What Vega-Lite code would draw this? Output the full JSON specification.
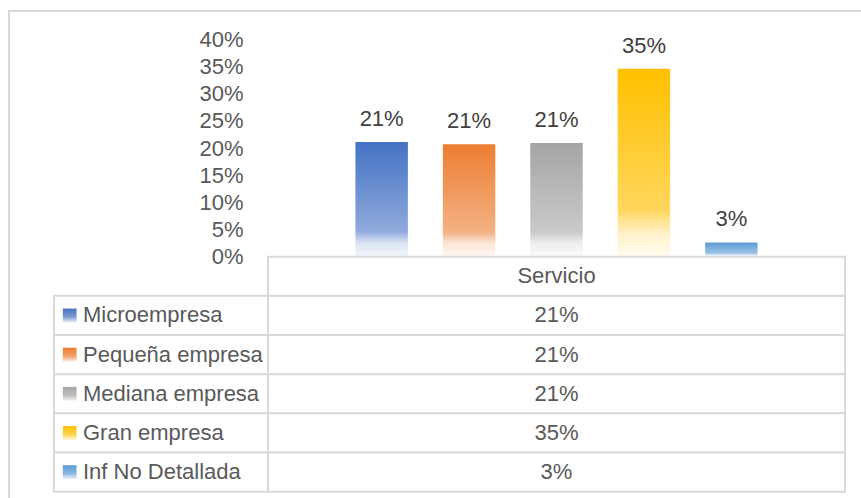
{
  "$schema": "https://vega.github.io/schema/vega-lite/v6.json",
  "width": 860,
  "height": 500,
  "autosize": {"type": "none"},
  "padding": {"left": 9, "top": 11, "right": -8, "bottom": -13},
  "background": "white",
  "config": {
    "view": {"stroke": "#D9D9D9", "strokeWidth": 2},
    "font": "Liberation Sans, Arial, sans-serif"
  },
  "datasets": {
    "empresas": [
      {"categoria": "Microempresa", "serie": "Servicio", "valor": 0.211},
      {"categoria": "Pequeña empresa", "serie": "Servicio", "valor": 0.207},
      {"categoria": "Mediana empresa", "serie": "Servicio", "valor": 0.209},
      {"categoria": "Gran empresa", "serie": "Servicio", "valor": 0.346},
      {"categoria": "Inf No Detallada", "serie": "Servicio", "valor": 0.026}
    ],
    "series": [{"serie": "Servicio"}]
  },
  "data": {"name": "empresas"},
  "resolve": {"scale": {"x": "independent", "y": "independent"}},
  "layer": [
    {
      "encoding": {
        "x": {"field": "categoria", "type": "nominal", "sort": null,
          "scale": {"domain": ["Microempresa", "Pequeña empresa", "Mediana empresa", "Gran empresa", "Inf No Detallada"], "range": [259, 836], "paddingInner": 0.4, "paddingOuter": 1.035},
          "axis": null},
        "y": {"field": "valor", "type": "quantitative",
          "scale": {"domain": [0, 0.4], "range": [245.5, 28.5], "nice": false, "zero": true},
          "axis": {"values": [0, 0.05, 0.1, 0.15, 0.2, 0.25, 0.3, 0.35, 0.4], "format": ".0%", "domain": false, "ticks": false, "grid": false, "labelFontSize": 22, "labelColor": "#595959", "labelPadding": 25, "offset": -259, "title": null, "labelOverlap": false, "labelFlush": false}}
      },
      "layer": [
        {
          "mark": {"type": "bar"},
          "encoding": {
            "color": {
              "condition": [
                {"test": "datum.categoria === 'Microempresa'", "value": {"gradient": "linear", "x1": 0, "y1": 0, "x2": 0, "y2": 1, "stops": [{"offset": 0, "color": "#4472C4"}, {"offset": 0.78, "color": "#8FAADC"}, {"offset": 0.88, "color": "#DAE3F3"}, {"offset": 1, "color": "#F4F7FB"}]}},
                {"test": "datum.categoria === 'Pequeña empresa'", "value": {"gradient": "linear", "x1": 0, "y1": 0, "x2": 0, "y2": 1, "stops": [{"offset": 0, "color": "#ED7D31"}, {"offset": 0.78, "color": "#F4B183"}, {"offset": 0.88, "color": "#FBE5D6"}, {"offset": 1, "color": "#FEF8F4"}]}},
                {"test": "datum.categoria === 'Mediana empresa'", "value": {"gradient": "linear", "x1": 0, "y1": 0, "x2": 0, "y2": 1, "stops": [{"offset": 0, "color": "#A5A5A5"}, {"offset": 0.78, "color": "#C9C9C9"}, {"offset": 0.88, "color": "#EDEDED"}, {"offset": 1, "color": "#FAFAFA"}]}},
                {"test": "datum.categoria === 'Gran empresa'", "value": {"gradient": "linear", "x1": 0, "y1": 0, "x2": 0, "y2": 1, "stops": [{"offset": 0, "color": "#FFC000"}, {"offset": 0.75, "color": "#FFD65C"}, {"offset": 0.88, "color": "#FFF2CC"}, {"offset": 1, "color": "#FFFBF0"}]}}
              ],
              "value": {"gradient": "linear", "x1": 0, "y1": 0, "x2": 0, "y2": 1, "stops": [{"offset": 0, "color": "#5B9BD5"}, {"offset": 0.78, "color": "#9DC3E6"}, {"offset": 0.88, "color": "#DEEBF7"}, {"offset": 1, "color": "#F5F9FD"}]}
            }
          }
        },
        {
          "mark": {"type": "text", "baseline": "alphabetic", "dy": -16, "fontSize": 22, "color": "#404040"},
          "encoding": {"text": {"field": "valor", "type": "quantitative", "format": ".0%"}}
        }
      ]
    },
    {
      "resolve": {"scale": {"x": "independent"}},
      "layer": [
        {
          "encoding": {
            "x": {"datum": "Tipo", "type": "nominal", "scale": {"domain": ["Tipo"], "range": [45, 259], "paddingInner": 0, "paddingOuter": 0}, "axis": null},
            "y": {"field": "categoria", "type": "nominal", "sort": null, "scale": {"domain": ["Servicio", "Microempresa", "Pequeña empresa", "Mediana empresa", "Gran empresa", "Inf No Detallada"], "range": [245.7, 480.7], "paddingInner": 0, "paddingOuter": 0}, "axis": null}
          },
          "layer": [
            {"mark": {"type": "rect", "fill": "white", "stroke": "#D9D9D9", "strokeWidth": 2}},
            {
              "mark": {"type": "square", "size": 190, "filled": true, "opacity": 1, "xOffset": 15.7},
              "encoding": {
                "x": {"datum": "Tipo", "type": "nominal", "bandPosition": 0, "scale": {"domain": ["Tipo"], "range": [45, 259], "paddingInner": 0, "paddingOuter": 0}, "axis": null},
                "color": {
                  "condition": [
                    {"test": "datum.categoria === 'Microempresa'", "value": {"gradient": "linear", "x1": 0, "y1": 0, "x2": 0, "y2": 1, "stops": [{"offset": 0, "color": "#4472C4"}, {"offset": 0.6, "color": "#7D9BD3"}, {"offset": 1, "color": "#E8EEF8"}]}},
                    {"test": "datum.categoria === 'Pequeña empresa'", "value": {"gradient": "linear", "x1": 0, "y1": 0, "x2": 0, "y2": 1, "stops": [{"offset": 0, "color": "#ED7D31"}, {"offset": 0.6, "color": "#F29F68"}, {"offset": 1, "color": "#FCEDE3"}]}},
                    {"test": "datum.categoria === 'Mediana empresa'", "value": {"gradient": "linear", "x1": 0, "y1": 0, "x2": 0, "y2": 1, "stops": [{"offset": 0, "color": "#A5A5A5"}, {"offset": 0.6, "color": "#BDBDBD"}, {"offset": 1, "color": "#F2F2F2"}]}},
                    {"test": "datum.categoria === 'Gran empresa'", "value": {"gradient": "linear", "x1": 0, "y1": 0, "x2": 0, "y2": 1, "stops": [{"offset": 0, "color": "#FFC000"}, {"offset": 0.6, "color": "#FFD24D"}, {"offset": 1, "color": "#FFF6DB"}]}}
                  ],
                  "value": {"gradient": "linear", "x1": 0, "y1": 0, "x2": 0, "y2": 1, "stops": [{"offset": 0, "color": "#5B9BD5"}, {"offset": 0.6, "color": "#8AB8E2"}, {"offset": 1, "color": "#EAF2FA"}]}
                }
              }
            },
            {
              "mark": {"type": "text", "align": "left", "baseline": "middle", "dx": 29, "fontSize": 22, "color": "#595959"},
              "encoding": {
                "x": {"datum": "Tipo", "type": "nominal", "bandPosition": 0, "scale": {"domain": ["Tipo"], "range": [45, 259], "paddingInner": 0, "paddingOuter": 0}, "axis": null},
                "text": {"field": "categoria", "type": "nominal"}
              }
            }
          ]
        },
        {
          "encoding": {
            "x": {"field": "serie", "type": "nominal", "scale": {"domain": ["Servicio"], "range": [259, 836], "paddingInner": 0, "paddingOuter": 0}, "axis": null}
          },
          "layer": [
            {
              "mark": {"type": "rect", "fill": "white", "stroke": "#D9D9D9", "strokeWidth": 2},
              "encoding": {"y": {"field": "categoria", "type": "nominal", "sort": null, "scale": {"domain": ["Servicio", "Microempresa", "Pequeña empresa", "Mediana empresa", "Gran empresa", "Inf No Detallada"], "range": [245.7, 480.7], "paddingInner": 0, "paddingOuter": 0}, "axis": null}}
            },
            {
              "data": {"name": "series"},
              "mark": {"type": "rect", "fill": "white", "stroke": "#D9D9D9", "strokeWidth": 2},
              "encoding": {"y": {"field": "serie", "type": "nominal", "scale": {"domain": ["Servicio", "Microempresa", "Pequeña empresa", "Mediana empresa", "Gran empresa", "Inf No Detallada"], "range": [245.7, 480.7], "paddingInner": 0, "paddingOuter": 0}, "axis": null}}
            },
            {
              "data": {"name": "series"},
              "mark": {"type": "text", "baseline": "middle", "fontSize": 22, "color": "#595959"},
              "encoding": {
                "y": {"field": "serie", "type": "nominal", "scale": {"domain": ["Servicio", "Microempresa", "Pequeña empresa", "Mediana empresa", "Gran empresa", "Inf No Detallada"], "range": [245.7, 480.7], "paddingInner": 0, "paddingOuter": 0}, "axis": null},
                "text": {"field": "serie", "type": "nominal"}
              }
            },
            {
              "mark": {"type": "text", "baseline": "middle", "fontSize": 22, "color": "#595959"},
              "encoding": {
                "y": {"field": "categoria", "type": "nominal", "sort": null, "scale": {"domain": ["Servicio", "Microempresa", "Pequeña empresa", "Mediana empresa", "Gran empresa", "Inf No Detallada"], "range": [245.7, 480.7], "paddingInner": 0, "paddingOuter": 0}, "axis": null},
                "text": {"field": "valor", "type": "quantitative", "format": ".0%"}
              }
            }
          ]
        }
      ]
    }
  ]
}
